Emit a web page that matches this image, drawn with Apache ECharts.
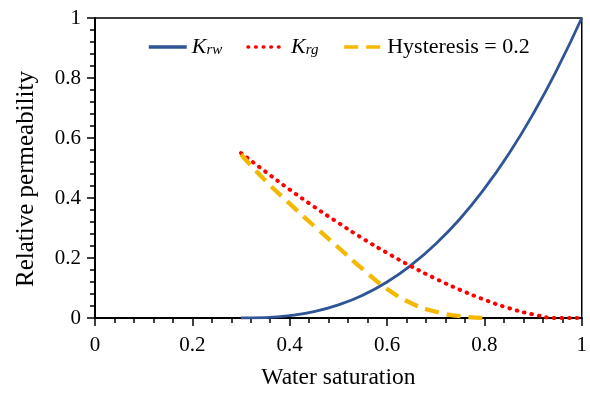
<!DOCTYPE html>
<html>
<head>
<meta charset="utf-8">
<script src="https://cdn.jsdelivr.net/npm/echarts@6/dist/echarts.min.js"></script>
<style>
html,body{margin:0;padding:0;background:#fff;}
#chart{width:590px;height:395px;}
</style>
</head>
<body>
<div id="chart"></div>
<script>
// Water saturation sample points
var sw = [0.30, 0.35, 0.40, 0.45, 0.50, 0.55, 0.60, 0.65, 0.70, 0.75, 0.80, 0.85, 0.90, 0.95, 1.00];
// Relative permeability to water
var krw = [0, 0.0014, 0.0077, 0.021, 0.044, 0.076, 0.120, 0.177, 0.247, 0.331, 0.431, 0.547, 0.680, 0.831, 1.0];
// Relative permeability to gas
var krg = [0.55, 0.488, 0.428, 0.371, 0.317, 0.265, 0.217, 0.172, 0.131, 0.094, 0.061, 0.033, 0.012, 0, 0];
// Hysteresis = 0.2 curve
var swHyst = [0.30, 0.35, 0.40, 0.45, 0.50, 0.55, 0.60, 0.65, 0.70, 0.75, 0.80];
var krgHyst = [0.545, 0.458, 0.381, 0.307, 0.235, 0.163, 0.097, 0.049, 0.021, 0.006, 0];

var seriesNames = ['Krw', 'Krg', 'Hysteresis = 0.2'];
var xTicks = { min: 0, max: 1, interval: 0.2 };
var yTicks = { min: 0, max: 1, interval: 0.2 };

function pairs(xs, ys) { return xs.map(function (x, i) { return [x, ys[i]]; }); }

var FONT = '"Liberation Serif", "Times New Roman", serif';
var chart = echarts.init(document.getElementById('chart'), null, { renderer: 'canvas' });

function axisCommon() {
  return {
    type: 'value',
    splitLine: { show: false },
    axisLine: { show: true, onZero: false, lineStyle: { color: '#000', width: 2 } },
    axisTick: { show: true, inside: false, length: 8, lineStyle: { color: '#000', width: 1.5 } },
    minorTick: { show: true, splitNumber: 5, length: 5, lineStyle: { color: '#000', width: 1.5 } },
    minorSplitLine: { show: false },
    axisLabel: {
      color: '#000', fontFamily: FONT, fontSize: 21,
      formatter: function (v) { return String(+v.toFixed(2)); }
    },
    nameTextStyle: { color: '#000', fontFamily: FONT, fontSize: 23.5 }
  };
}

var xAxis = axisCommon();
xAxis.min = xTicks.min; xAxis.max = xTicks.max; xAxis.interval = xTicks.interval;
xAxis.name = 'Water saturation';
xAxis.nameLocation = 'middle';
xAxis.nameGap = 48;
xAxis.axisLabel.margin = 17;

var yAxis = axisCommon();
yAxis.min = yTicks.min; yAxis.max = yTicks.max; yAxis.interval = yTicks.interval;
yAxis.name = 'Relative permeability';
yAxis.nameLocation = 'middle';
yAxis.nameGap = 56;
yAxis.axisLabel.margin = 14;
yAxis.nameTextStyle.fontSize = 25;
yAxis.nameTextStyle.padding = [0, 22, 0, 0];

var option = {
  animation: false,
  backgroundColor: '#fff',
  grid: { left: 95, right: 8, top: 18, bottom: 77, show: true, borderColor: '#000', borderWidth: 1.5, backgroundColor: 'transparent' },
  legend: {
    data: seriesNames,
    left: 147, top: 36, padding: 0,
    itemWidth: 38, itemHeight: 14, itemGap: 24,
    itemStyle: { opacity: 0 },
    lineStyle: { width: 3.5 },
    textStyle: {
      color: '#000', fontFamily: FONT, fontSize: 22,
      rich: {
        k: { fontFamily: FONT, fontStyle: 'italic', fontSize: 22, color: '#000' },
        s: { fontFamily: FONT, fontStyle: 'italic', fontSize: 15, color: '#000', padding: [7, 0, 0, 0] },
        n: { fontFamily: FONT, fontSize: 22, color: '#000' }
      }
    },
    formatter: function (name) {
      if (name === 'Krw') return '{k|K}{s|rw}';
      if (name === 'Krg') return '{k|K}{s|rg}';
      return '{n|' + name + '}';
    }
  },
  xAxis: xAxis,
  yAxis: yAxis,
  series: [
    {
      name: 'Krw', type: 'line', smooth: true, symbol: 'none',
      data: pairs(sw, krw),
      lineStyle: { color: '#2f5597', width: 2.8 },
      itemStyle: { color: '#2f5597' }
    },
    {
      name: 'Krg', type: 'line', smooth: true, symbol: 'none',
      data: pairs(sw, krg),
      lineStyle: { color: '#ff0000', width: 4, type: [0.6, 7], cap: 'round' },
      itemStyle: { color: '#ff0000' }
    },
    {
      name: 'Hysteresis = 0.2', type: 'line', smooth: true, symbol: 'none',
      data: pairs(swHyst, krgHyst),
      lineStyle: { color: '#f5b800', width: 4.3, type: [14, 8] },
      itemStyle: { color: '#f5b800' }
    }
  ]
};
chart.setOption(option);
</script>
</body>
</html>
